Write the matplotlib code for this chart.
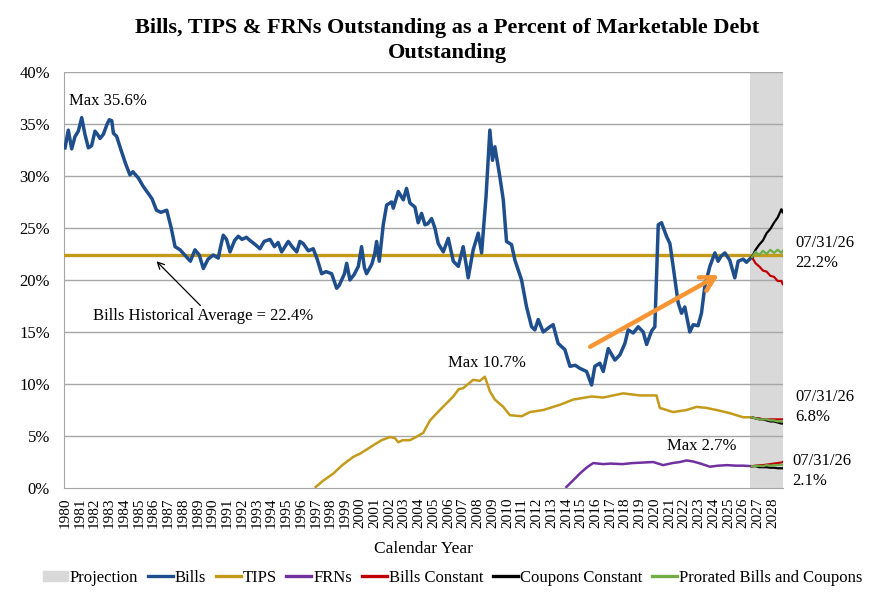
import numpy as np
import matplotlib
matplotlib.use('Agg')
import matplotlib.pyplot as plt
from matplotlib.patches import Patch
from matplotlib.lines import Line2D
from matplotlib.ticker import FuncFormatter

plt.rcParams['font.family'] = ['Liberation Serif', 'DejaVu Serif']

# Bills, share of marketable debt (%)
bills_yr = [1980.0, 1980.22, 1980.45, 1980.68, 1980.9, 1981.13, 1981.35, 1981.58, 1981.8,
            1982.03, 1982.2, 1982.37, 1982.6, 1982.83, 1983.0, 1983.17, 1983.28, 1983.5,
            1983.84, 1984.1, 1984.4, 1984.6, 1984.97, 1985.3, 1985.65, 1985.9, 1986.2,
            1986.5, 1986.9, 1987.2, 1987.46, 1987.8, 1988.25, 1988.5, 1988.81, 1989.1,
            1989.38, 1989.7, 1990.05, 1990.39, 1990.55, 1990.73, 1990.95, 1991.19, 1991.5,
            1991.75, 1992.0, 1992.3, 1992.54, 1992.9, 1993.22, 1993.5, 1993.9, 1994.2,
            1994.45, 1994.69, 1995.14, 1995.4, 1995.71, 1995.93, 1996.15, 1996.5, 1996.83,
            1997.1, 1997.4, 1997.7, 1998.08, 1998.42, 1998.6, 1998.76, 1998.95, 1999.1,
            1999.32, 1999.6, 1999.89, 2000.11, 2000.3, 2000.45, 2000.8, 2001.0, 2001.13,
            2001.31, 2001.58, 2001.81, 2002.15, 2002.26, 2002.6, 2002.94, 2003.16, 2003.39,
            2003.73, 2003.95, 2004.18, 2004.41, 2004.6, 2004.86, 2005.08, 2005.31, 2005.65,
            2005.99, 2006.33, 2006.67, 2007.0, 2007.2, 2007.34, 2007.68, 2008.02, 2008.25,
            2008.55, 2008.81, 2008.99, 2009.15, 2009.3, 2009.49, 2009.72, 2009.94, 2010.28,
            2010.51, 2010.96, 2011.3, 2011.64, 2011.86, 2012.09, 2012.43, 2012.88, 2013.1,
            2013.44, 2013.9, 2014.24, 2014.6, 2014.92, 2015.37, 2015.71, 2015.93, 2016.27,
            2016.5, 2016.84, 2017.29, 2017.63, 2017.97, 2018.19, 2018.53, 2018.87, 2019.21,
            2019.44, 2019.78, 2020.0, 2020.23, 2020.45, 2020.79, 2021.02, 2021.24, 2021.58,
            2021.81, 2022.03, 2022.37, 2022.6, 2022.93, 2023.16, 2023.39, 2023.73, 2024.07,
            2024.29, 2024.5, 2024.75, 2025.08, 2025.42, 2025.65, 2025.99, 2026.21, 2026.58]
bills_pct = [32.7, 34.4, 32.6, 33.8, 34.3, 35.6, 34.0, 32.7, 32.9,
             34.3, 34.0, 33.6, 34.0, 34.9, 35.4, 35.3, 34.1, 33.8,
             32.3, 31.2, 30.1, 30.4, 29.8, 29.0, 28.3, 27.8, 26.7,
             26.5, 26.7, 25.0, 23.2, 22.9, 22.2, 21.8, 22.9, 22.4,
             21.1, 22.0, 22.4, 22.1, 23.2, 24.3, 23.9, 22.7, 23.8,
             24.2, 23.9, 24.1, 23.8, 23.4, 23.0, 23.7, 23.9, 23.2,
             23.6, 22.7, 23.7, 23.2, 22.7, 23.7, 23.5, 22.8, 23.0,
             22.0, 20.6, 20.8, 20.6, 19.2, 19.5, 20.0, 20.6, 21.6,
             20.0, 20.5, 21.3, 23.2, 21.2, 20.6, 21.5, 22.5, 23.7,
             21.8, 25.3, 27.2, 27.5, 26.9, 28.5, 27.7, 28.8, 27.4,
             27.0, 25.5, 26.4, 25.3, 25.4, 25.9, 25.0, 23.5, 22.7,
             24.0, 21.8, 21.3, 23.2, 21.5, 20.2, 22.9, 24.5, 22.6,
             28.0, 34.4, 31.5, 32.8, 31.5, 29.9, 27.7, 23.7, 23.4,
             21.9, 20.0, 17.4, 15.5, 15.2, 16.2, 15.0, 15.5, 15.7,
             13.9, 13.3, 11.7, 11.8, 11.5, 11.2, 9.9, 11.7, 12.0,
             11.2, 13.4, 12.3, 12.8, 13.9, 15.2, 14.9, 15.5, 15.0,
             13.8, 15.1, 15.5, 25.3, 25.5, 24.2, 23.5, 21.3, 17.8,
             16.8, 17.4, 15.0, 15.7, 15.6, 16.8, 19.4, 21.3, 22.6,
             21.8, 22.3, 22.6, 21.9, 20.2, 21.8, 22.0, 21.7, 22.2]

tips_yr = [1997.0, 1997.5, 1998.2, 1998.8, 1999.55, 2000.0, 2000.45, 2001.0, 2001.47,
           2002.03, 2002.37, 2002.6, 2002.9, 2003.39, 2003.8, 2004.29, 2004.75, 2005.42,
           2006.33, 2006.7, 2007.0, 2007.68, 2008.13, 2008.47, 2008.81, 2009.15, 2009.72,
           2010.17, 2010.96, 2011.53, 2012.43, 2013.56, 2014.46, 2015.71, 2016.5, 2017.85,
           2018.98, 2020.11, 2020.34, 2021.24, 2022.15, 2022.83, 2023.5, 2024.18, 2025.08,
           2025.99, 2026.58]
tips_pct = [0.1, 0.7, 1.4, 2.2, 3.0, 3.3, 3.7, 4.2, 4.6,
            4.9, 4.8, 4.4, 4.6, 4.6, 4.9, 5.3, 6.5, 7.5,
            8.8, 9.5, 9.6, 10.4, 10.3, 10.7, 9.3, 8.5, 7.8,
            7.0, 6.9, 7.3, 7.5, 8.0, 8.5, 8.8, 8.7, 9.1,
            8.9, 8.9, 7.7, 7.3, 7.5, 7.8, 7.7, 7.5, 7.2,
            6.8, 6.8]

frn_yr = [2014.0, 2014.5, 2014.92, 2015.4, 2015.82, 2016.5, 2017.0, 2017.8, 2018.5,
          2019.2, 2019.89, 2020.56, 2021.2, 2021.7, 2022.15, 2022.6, 2023.1, 2023.73,
          2024.3, 2024.9, 2025.5, 2026.0, 2026.58]
frn_pct = [0.1, 0.8, 1.4, 2.0, 2.4, 2.3, 2.35, 2.3, 2.4,
           2.45, 2.5, 2.2, 2.4, 2.5, 2.65, 2.55, 2.35, 2.05,
           2.15, 2.2, 2.15, 2.15, 2.1]

# projections (07/31/26 onward)
proj_yr = [2026.58, 2026.83, 2027.08, 2027.33, 2027.58, 2027.83, 2028.08, 2028.33, 2028.58, 2028.67]
bills_cc = [22.2, 22.9, 23.4, 23.8, 24.5, 24.9, 25.5, 26.0, 26.8, 26.5]
bills_bc = [22.2, 21.6, 21.3, 20.9, 20.8, 20.4, 20.3, 19.9, 19.9, 19.6]
bills_pr = [22.2, 22.7, 22.4, 22.8, 22.5, 22.9, 22.6, 22.9, 22.6, 22.8]
tips_cc = [6.8, 6.7, 6.6, 6.6, 6.5, 6.4, 6.4, 6.3, 6.2, 6.2]
tips_bc = [6.8, 6.7, 6.7, 6.6, 6.6, 6.6, 6.6, 6.6, 6.6, 6.6]
tips_pr = [6.8, 6.7, 6.6, 6.6, 6.6, 6.5, 6.5, 6.4, 6.4, 6.4]
frn_cc = [2.1, 2.1, 2.0, 2.0, 2.0, 1.95, 1.95, 1.9, 1.9, 1.9]
frn_bc = [2.1, 2.15, 2.2, 2.2, 2.25, 2.3, 2.35, 2.4, 2.45, 2.5]
frn_pr = [2.1, 2.1, 2.15, 2.1, 2.2, 2.15, 2.2, 2.2, 2.25, 2.2]

bills_avg = 22.4
proj_start, proj_end = 2026.47, 2028.7
years = list(range(1980, 2029))

c_bills = '#1F4E8C'
c_tips = '#C49A1A'
c_frn = '#7030A0'
c_red = '#C00000'
c_black = '#000000'
c_green = '#70AD47'
c_shade = '#D9D9D9'
c_grid = '#A6A6A6'

fig = plt.figure(figsize=(8.94, 6.04), dpi=100)
ax = fig.add_axes([0.0716, 0.192, 0.8044, 0.689])

ax.axvspan(proj_start, proj_end, color=c_shade, zorder=0, lw=0)
for v in range(5, 45, 5):
    ax.axhline(v, color=c_grid, lw=1.0, zorder=1)

ax.axhline(bills_avg, color=c_tips, lw=2.4, zorder=3)
ax.plot(bills_yr, bills_pct, color=c_bills, lw=2.5, zorder=4, solid_joinstyle='round')
ax.plot(tips_yr, tips_pct, color=c_tips, lw=1.8, zorder=4)
ax.plot(frn_yr, frn_pct, color=c_frn, lw=1.8, zorder=4)

for bc, cc, pr in [(bills_bc, bills_cc, bills_pr), (tips_bc, tips_cc, tips_pr), (frn_bc, frn_cc, frn_pr)]:
    ax.plot(proj_yr, bc, color=c_red, lw=1.6, zorder=5)
    ax.plot(proj_yr, cc, color=c_black, lw=1.6, zorder=5)
    ax.plot(proj_yr, pr, color=c_green, lw=1.6, zorder=6)

# orange trend arrow
ax.annotate('', xy=(2024.5, 20.6), xytext=(2015.45, 13.45),
            arrowprops=dict(arrowstyle='->,head_length=1.0,head_width=0.55',
                            color='#F79433', lw=3.2), zorder=7)

# annotations
ax.annotate('Bills Historical Average = 22.4%', xy=(1986.2, 21.8), xytext=(1981.9, 16.5),
            fontsize=12, va='center', ha='left',
            arrowprops=dict(arrowstyle='->', color='black', lw=0.9,
                            relpos=(0.5, 1.0), shrinkA=0, shrinkB=0))
ax.text(1980.3, 37.2, 'Max 35.6%', fontsize=12, va='center', ha='left')
ax.text(2006.0, 12.0, 'Max 10.7%', fontsize=12, va='center', ha='left')
ax.text(2020.8, 4.0, 'Max 2.7%', fontsize=12, va='center', ha='left')

lbl = dict(fontsize=12, va='center', ha='left', clip_on=False, linespacing=1.35)
ax.text(2029.5, 22.6, '07/31/26\n22.2%', **lbl)
ax.text(2029.5, 7.8, '07/31/26\n6.8%', **lbl)
ax.text(2029.3, 1.6, '07/31/26\n2.1%', **lbl)

ax.set_xlim(1979.93, 2028.7)
ax.set_ylim(0, 40)
ax.set_xticks(years)
ax.set_xticklabels([str(y) for y in years], rotation=90, fontsize=11)
ax.yaxis.set_major_formatter(FuncFormatter(lambda v, p: f'{v:.0f}%'))
ax.set_yticks(range(0, 45, 5))
ax.tick_params(axis='y', labelsize=12, length=0, pad=10)
ax.tick_params(axis='x', length=0, pad=7)
for s in ['top', 'right']:
    ax.spines[s].set_visible(False)
ax.spines['left'].set_color(c_grid)
ax.spines['bottom'].set_color(c_grid)
ax.set_xlabel('Calendar Year', fontsize=12.5, labelpad=9)

fig.text(0.5, 1 - 28 / 604, 'Bills, TIPS & FRNs Outstanding as a Percent of Marketable Debt',
         fontsize=16, fontweight='bold', ha='center', va='center')
fig.text(0.5, 1 - 53 / 604, 'Outstanding',
         fontsize=16, fontweight='bold', ha='center', va='center')

handles = [Patch(color=c_shade, label='Projection'),
           Line2D([], [], color=c_bills, lw=2.4, label='Bills'),
           Line2D([], [], color=c_tips, lw=2.4, label='TIPS'),
           Line2D([], [], color=c_frn, lw=2.4, label='FRNs'),
           Line2D([], [], color=c_red, lw=2.4, label='Bills Constant'),
           Line2D([], [], color=c_black, lw=2.4, label='Coupons Constant'),
           Line2D([], [], color=c_green, lw=2.4, label='Prorated Bills and Coupons')]
fig.legend(handles=handles, loc='center', bbox_to_anchor=(0.506, 1 - 578 / 604), ncol=7,
           frameon=False, fontsize=12, handlelength=1.5, handletextpad=0.1,
           columnspacing=0.6, handleheight=0.6)

fig.savefig('out.png', dpi=100)
